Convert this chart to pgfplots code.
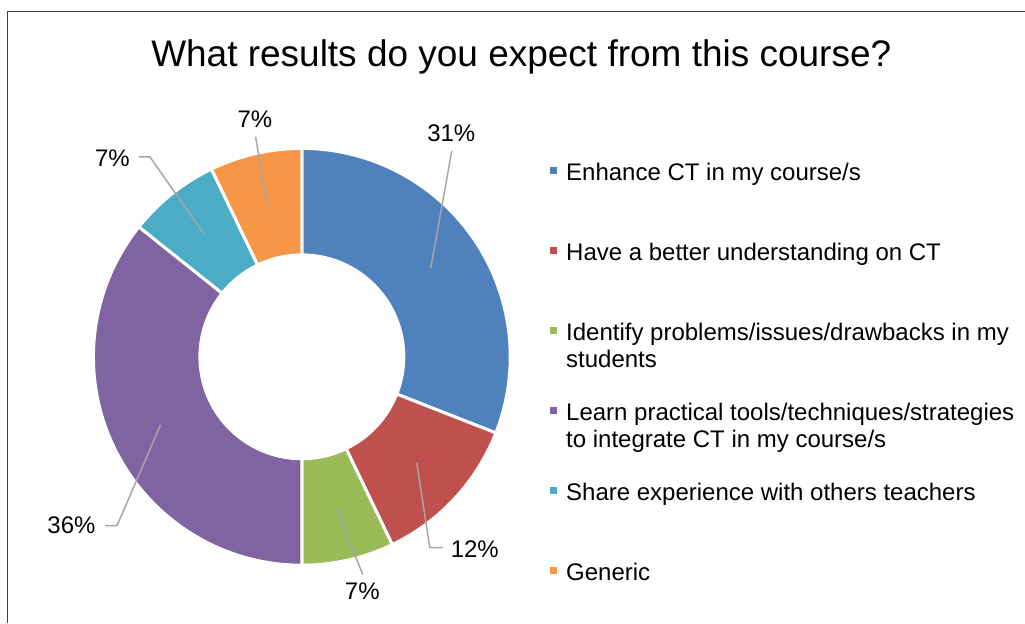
\documentclass[border=0pt]{standalone}
\usepackage{pgfplots}
\pgfplotsset{compat=1.18}
\usepackage{fontspec}
\setmainfont{Liberation Sans}
\definecolor{cBlue}{HTML}{4F81BD}
\definecolor{cRed}{HTML}{C0504D}
\definecolor{cGreen}{HTML}{9BBB59}
\definecolor{cPurple}{HTML}{8064A2}
\definecolor{cAqua}{HTML}{4BACC6}
\definecolor{cOrange}{HTML}{F79646}
\definecolor{cLeader}{HTML}{A6A6A6}
% donut slice: #1 cumulative count before, #2 count, #3 colour (total 42 answers)
\newcommand{\slice}[3]{%
  \fill[#3, draw=white, line width=3pt, line join=miter]
    (axis cs:302,266) ++({90-360*#1/42}:208.5pt)
    arc[start angle={90-360*#1/42}, end angle={90-360*(#1+#2)/42}, radius=208.5pt]
    -- ++({270-360*(#1+#2)/42}:106.5pt)
    arc[start angle={90-360*(#1+#2)/42}, end angle={90-360*#1/42}, radius=102pt]
    -- cycle;}
% legend square: #1 colour, #2 depth of the row
\newcommand{\legsq}[2]{\addlegendimage{legend image code/.code={%
    \path[draw=none, fill=none] (0pt,-#2) rectangle (0.01pt,17pt);
    \fill[#1, draw=none] (0pt,-1.5pt) rectangle (7pt,5.5pt);}}}
% legend text: #1 depth of the row, #2 text
\newcommand{\legtxt}[2]{\rule{0pt}{17pt}\rule[-#1]{0pt}{#1}\makebox[0pt][l]{\smash{\parbox[t]{480pt}{#2}}}}
\begin{document}
\begin{tikzpicture}
\begin{axis}[
  scale only axis, width=1025pt, height=623pt,
  xmin=0, xmax=1025, ymin=0, ymax=623,
  hide axis, clip=false,
  legend style={at={(0.53659,0.74960)}, anchor=north west, draw=none, fill=none,
    inner sep=0pt, outer sep=0pt, row sep=0pt, column sep=9pt,
    nodes={inner sep=0pt, outer sep=0pt},
    font=\fontsize{24}{26.5}\selectfont},
  legend cell align=left,
]
\path (axis cs:0,0) rectangle (axis cs:1025,623);
% border of the chart area
\draw[black!75, line width=1pt] (axis cs:7.5,0) -- (axis cs:7.5,611) -- (axis cs:1025,611);
% title
\node[anchor=base, font=\fontsize{37}{44}\selectfont] at (axis cs:521.5,556) {What results do you expect from this course?};
% donut slices (counts: 13,5,3,15,3,3 of 42)
\slice{0}{13}{cBlue}
\slice{13}{5}{cRed}
\slice{18}{3}{cGreen}
\slice{21}{15}{cPurple}
\slice{36}{3}{cAqua}
\slice{39}{3}{cOrange}
% leader lines
\begin{scope}[cLeader, line width=1.5pt]
\draw (axis cs:431,355) -- (axis cs:452,472);
\draw (axis cs:417,160) -- (axis cs:430,75) -- (axis cs:443,75);
\draw (axis cs:337,113) -- (axis cs:363,48);
\draw (axis cs:160.7,198) -- (axis cs:117,97) -- (axis cs:105,97);
\draw (axis cs:204,389) -- (axis cs:150,466) -- (axis cs:139,466);
\draw (axis cs:266.7,420) -- (axis cs:255.7,486.3);
\end{scope}
% data labels
\begin{scope}[every node/.style={font=\fontsize{24}{28}\selectfont}]
\node at (axis cs:451.5,489.5) {31\%};
\node at (axis cs:475,73.5) {12\%};
\node at (axis cs:362.5,31) {7\%};
\node at (axis cs:71.5,97) {36\%};
\node at (axis cs:112.5,464.5) {7\%};
\node at (axis cs:255,503.5) {7\%};
\end{scope}
% legend
\legsq{cBlue}{63pt}\addlegendentry{\legtxt{63pt}{Enhance CT in my course/s}}
\legsq{cRed}{63pt}\addlegendentry{\legtxt{63pt}{Have a better understanding on CT}}
\legsq{cGreen}{63pt}\addlegendentry{\legtxt{63pt}{Identify problems/issues/drawbacks in my\newline students}}
\legsq{cPurple}{63pt}\addlegendentry{\legtxt{63pt}{Learn practical tools/techniques/strategies\newline to integrate CT in my course/s}}
\legsq{cAqua}{63pt}\addlegendentry{\legtxt{63pt}{Share experience with others teachers}}
\legsq{cOrange}{8pt}\addlegendentry{\legtxt{8pt}{Generic}}
\end{axis}
\end{tikzpicture}
\end{document}
